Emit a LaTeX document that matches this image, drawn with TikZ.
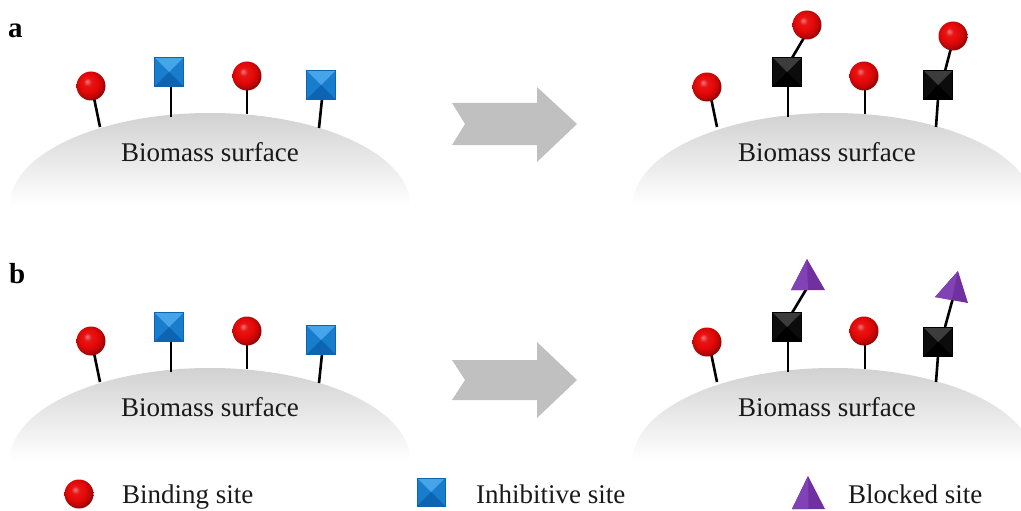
\documentclass[tikz,border=0pt]{standalone}
\usepackage{fontspec}
\setmainfont{Liberation Serif}
\usetikzlibrary{shadings,calc}
\definecolor{ballred}{RGB}{230,8,8}
\definecolor{sqblue}{RGB}{25,125,205}
\definecolor{sqbluelt}{RGB}{70,165,232}
\definecolor{sqbluedk}{RGB}{12,100,178}
\definecolor{sqblack}{RGB}{12,12,12}
\definecolor{sqblacklt}{RGB}{60,60,60}
\definecolor{trpurple}{RGB}{112,48,160}
\definecolor{trpurplelt}{RGB}{128,66,180}
\definecolor{arrowgray}{RGB}{192,192,192}
\pgfdeclareradialshading{redballshade}{\pgfpoint{-7bp}{8bp}}{%
  color(0bp)=(ballred!55!white);
  color(7bp)=(ballred!95!white);
  color(16bp)=(ballred);
  color(24bp)=(ballred!80!black);
  color(27bp)=(ballred!65!black);
  color(50bp)=(ballred!65!black)}
\tikzset{
  stick/.style={line width=2.6pt, black},
  surftext/.style={font=\fontsize{27}{30}\selectfont, anchor=base, inner sep=0pt, text=black!90},
  legtext/.style={font=\fontsize{27}{30}\selectfont, anchor=base west, inner sep=0pt, text=black!90},
  panellab/.style={font=\fontsize{29}{32}\selectfont\bfseries, anchor=base west, inner sep=0pt},
  bigarrow/.style={fill=arrowgray},
  dome/.style={top color=black!18, bottom color=white, draw=none},
  redball/.style={shading=redballshade}
}
% red ball
\newcommand{\rball}[2]{\shade[redball] (#1,#2) circle (14.5);}
% pyramid square: cx, cy, half, base, light, dark
\newcommand{\pyrsq}[6]{%
  \fill[#4] (#1-#3,#2-#3) rectangle (#1+#3,#2+#3);
  \fill[#5] (#1-#3,#2-#3) -- (#1+#3,#2-#3) -- (#1,#2) -- cycle;
  \fill[#6] (#1-#3,#2+#3) -- (#1+#3,#2+#3) -- (#1,#2) -- cycle;
  \draw[#6, line width=0.6pt] (#1-#3,#2-#3) rectangle (#1+#3,#2+#3);}
\newcommand{\bsq}[2]{\pyrsq{#1}{#2}{14.5}{sqblue}{sqbluelt}{sqbluedk}}
\newcommand{\ksq}[2]{\pyrsq{#1}{#2}{14.5}{sqblack}{sqblacklt}{black}}
% triangle: apex x,y ; left x,y ; right x,y
\newcommand{\ptri}[6]{%
  \fill[trpurple] (#1,#2) -- (#3,#4) -- (#5,#6) -- cycle;
  \fill[trpurplelt] (#1,#2) -- (#3,#4) -- ($(#3,#4)!0.5!(#5,#6)$) -- cycle;}
\begin{document}
\begin{tikzpicture}[x=1pt, y=-1pt]
\useasboundingbox (0,0) rectangle (1021,511);
\clip (0,0) rectangle (1021,511);

% ---------- domes ----------
\shade[dome] (10,205) arc[start angle=180, end angle=360, x radius=200, y radius=92] -- cycle;
\shade[dome] (633,205) arc[start angle=180, end angle=360, x radius=200, y radius=92] -- cycle;
\shade[dome] (10,460) arc[start angle=180, end angle=360, x radius=200, y radius=92] -- cycle;
\shade[dome] (633,460) arc[start angle=180, end angle=360, x radius=200, y radius=92] -- cycle;

% ---------- labels ----------
\node[panellab] (labA) at (8,38) {a};
\node[panellab] (labB) at (9,283) {b};
\node[surftext] (surfA1) at (210,161) {Biomass surface};
\node[surftext] (surfA2) at (827,161) {Biomass surface};
\node[surftext] (surfB1) at (210,416) {Biomass surface};
\node[surftext] (surfB2) at (827,416) {Biomass surface};

% ---------- arrows ----------
\fill[bigarrow] (452,103) -- (537,103) -- (537,87) -- (577,124) -- (537,162) -- (537,145) -- (452,145) -- (465,124) -- cycle;
\fill[bigarrow] (452,360) -- (537,360) -- (537,342) -- (577,380) -- (537,418) -- (537,400) -- (452,400) -- (465,380) -- cycle;

% ---------- panel a, left ----------
\draw[stick] (100,127) -- (94,98);
\rball{91}{86}
\draw[stick] (171,117) -- (171,86);
\bsq{169}{72}
\draw[stick] (247,114) -- (247,90);
\rball{247}{76}
\draw[stick] (319,128) -- (322,99);
\bsq{321}{85}

% ---------- panel a, right ----------
\draw[stick] (717,127) -- (711,98);
\rball{707}{87}
\draw[stick] (788,117) -- (788,86);
\draw[stick] (792,58) -- (805,36);
\ksq{787}{72}
\rball{807}{25}
\draw[stick] (865,114) -- (865,90);
\rball{864}{76}
\draw[stick] (936,127) -- (938,99);
\draw[stick] (945,71) -- (951,48);
\ksq{938}{85}
\rball{953}{36}

% ---------- panel b, left ----------
\draw[stick] (100,382) -- (94,353);
\rball{91}{341}
\draw[stick] (171,372) -- (171,341);
\bsq{169}{327}
\draw[stick] (247,369) -- (247,345);
\rball{247}{331}
\draw[stick] (319,383) -- (322,354);
\bsq{321}{340}

% ---------- panel b, right ----------
\draw[stick] (717,382) -- (711,353);
\rball{707}{342}
\draw[stick] (788,372) -- (788,341);
\draw[stick] (792,313) -- (807,288);
\ksq{787}{327}
\ptri{807}{259}{791}{290}{825}{290}
\draw[stick] (865,369) -- (865,345);
\rball{864}{331}
\draw[stick] (936,382) -- (938,356);
\draw[stick] (945,327) -- (953,298);
\ksq{938}{342}
\ptri{958}{271}{935}{297}{968}{303}

% ---------- legend ----------
\rball{79}{494}
\node[legtext] (legBind) at (122,503) {Binding site};
\pyrsq{431}{492}{14}{sqblue}{sqbluelt}{sqbluedk}
\node[legtext] (legInh) at (476,503) {Inhibitive site};
\ptri{808}{476}{792}{509}{825}{509}
\node[legtext] (legBlk) at (848,503) {Blocked site};
\end{tikzpicture}
\end{document}
